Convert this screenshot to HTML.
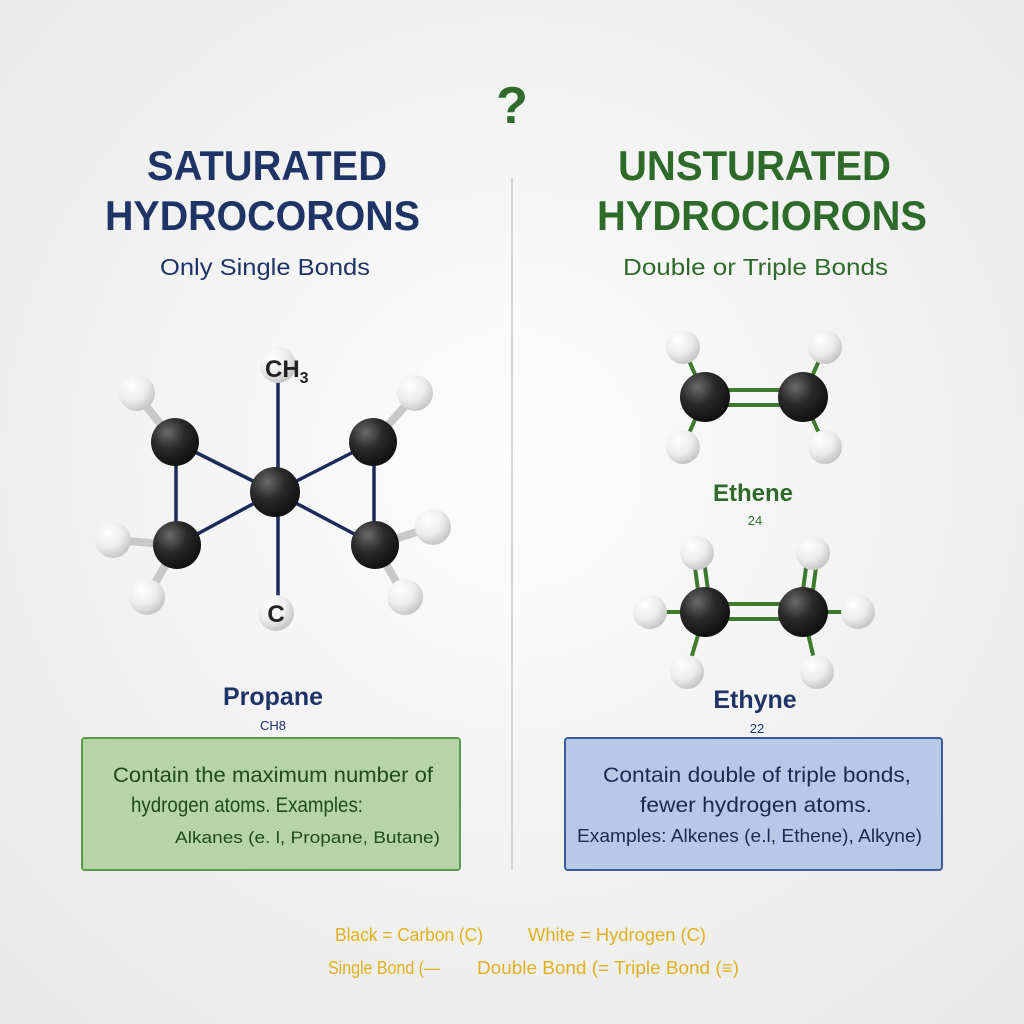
<!DOCTYPE html>
<html><head><meta charset="utf-8"><style>
html,body{margin:0;padding:0;width:1024px;height:1024px;overflow:hidden;background:#f5f5f5}
svg{display:block}
text{font-family:"Liberation Sans",sans-serif}
</style></head><body>
<svg width="1024" height="1024" viewBox="0 0 1024 1024">
<defs>
<radialGradient id="bg" cx="50%" cy="45%" r="70%"><stop offset="0" stop-color="#fdfdfd"/><stop offset="1" stop-color="#e9e9e9"/></radialGradient>
<radialGradient id="cg" cx="35%" cy="30%" r="70%"><stop offset="0" stop-color="#6a6a6a"/><stop offset="0.5" stop-color="#2a2a2a"/><stop offset="1" stop-color="#111"/></radialGradient>
<radialGradient id="hg" cx="35%" cy="30%" r="70%"><stop offset="0" stop-color="#ffffff"/><stop offset="0.6" stop-color="#ececec"/><stop offset="1" stop-color="#c8c8c8"/></radialGradient>
</defs>
<rect width="1024" height="1024" fill="url(#bg)"/>
<text x="512" y="123" text-anchor="middle" font-size="52" font-weight="bold" fill="#2e6b2a">?</text>
<line x1="512" y1="178" x2="512" y2="870" stroke="#d4d4d4" stroke-width="2"/>

<g fill="#1f3466" font-weight="bold">
<text x="147" y="180" font-size="42" textLength="240" lengthAdjust="spacingAndGlyphs">SATURATED</text>
<text x="105" y="230" font-size="42" textLength="315" lengthAdjust="spacingAndGlyphs">HYDROCORONS</text>
</g>
<text x="160" y="275" font-size="23" fill="#1f3466" textLength="210" lengthAdjust="spacingAndGlyphs">Only Single Bonds</text>

<g fill="#2e6b2a" font-weight="bold">
<text x="618" y="180" font-size="42" textLength="273" lengthAdjust="spacingAndGlyphs">UNSTURATED</text>
<text x="597" y="230" font-size="42" textLength="330" lengthAdjust="spacingAndGlyphs">HYDROCIORONS</text>
</g>
<text x="623" y="275" font-size="23" fill="#2e6b2a" textLength="265" lengthAdjust="spacingAndGlyphs">Double or Triple Bonds</text>

<!-- Propane molecule -->
<g>
<g stroke="#c8c8c8" stroke-width="8">
<line x1="137" y1="395" x2="175" y2="442"/><line x1="113" y1="540" x2="177" y2="545"/><line x1="147" y1="597" x2="177" y2="545"/>
<line x1="415" y1="395" x2="373" y2="442"/><line x1="433" y1="527" x2="375" y2="545"/><line x1="405" y1="597" x2="375" y2="545"/>
</g>
<g stroke="#1a2a5a" stroke-width="3.5">
<line x1="278" y1="370" x2="278" y2="613"/>
<line x1="275" y1="492" x2="175" y2="442"/><line x1="275" y1="492" x2="177" y2="545"/>
<line x1="275" y1="492" x2="373" y2="442"/><line x1="275" y1="492" x2="375" y2="545"/>
<line x1="176" y1="442" x2="176" y2="545"/><line x1="374" y1="442" x2="374" y2="545"/>
</g>
<g fill="url(#hg)">
<circle cx="137" cy="393" r="18"/><circle cx="113" cy="540" r="18"/><circle cx="147" cy="597" r="18"/>
<circle cx="415" cy="393" r="18"/><circle cx="433" cy="527" r="18"/><circle cx="405" cy="597" r="18"/>
<circle cx="278" cy="365" r="18"/><circle cx="276" cy="613" r="18"/>
</g>
<g fill="url(#cg)">
<circle cx="175" cy="442" r="24"/><circle cx="177" cy="545" r="24"/><circle cx="373" cy="442" r="24"/><circle cx="375" cy="545" r="24"/><circle cx="275" cy="492" r="25"/>
</g>
<text x="265" y="377" font-size="24" font-weight="bold" fill="#222">CH<tspan font-size="16" dy="6">3</tspan></text>
<text x="276" y="622" font-size="24" font-weight="bold" fill="#222" text-anchor="middle">C</text>
</g>
<text x="273" y="705" font-size="25" font-weight="bold" fill="#1f3466" text-anchor="middle">Propane</text>
<text x="273" y="730" font-size="13" fill="#1f3466" text-anchor="middle">CH8</text>

<!-- Ethene -->
<g>
<g stroke="#3d7a2e" stroke-width="4">
<line x1="683" y1="347" x2="705" y2="397"/><line x1="825" y1="347" x2="803" y2="397"/><line x1="683" y1="447" x2="705" y2="397"/><line x1="825" y1="447" x2="803" y2="397"/>
<line x1="705" y1="390" x2="803" y2="390"/><line x1="705" y1="405" x2="803" y2="405"/>
</g>
<g fill="url(#hg)"><circle cx="683" cy="347" r="17"/><circle cx="825" cy="347" r="17"/><circle cx="683" cy="447" r="17"/><circle cx="825" cy="447" r="17"/></g>
<g fill="url(#cg)"><circle cx="705" cy="397" r="25"/><circle cx="803" cy="397" r="25"/></g>
</g>
<text x="753" y="501" font-size="24" font-weight="bold" fill="#2e6b2a" text-anchor="middle">Ethene</text>
<text x="755" y="525" font-size="13" fill="#2e6b2a" text-anchor="middle">24</text>

<!-- Ethyne -->
<g>
<g stroke="#3d7a2e" stroke-width="4">
<line x1="693" y1="553" x2="701" y2="612"/><line x1="703" y1="553" x2="711" y2="612"/>
<line x1="808" y1="553" x2="800" y2="612"/><line x1="818" y1="553" x2="810" y2="612"/>
<line x1="650" y1="612" x2="705" y2="612"/><line x1="858" y1="612" x2="803" y2="612"/>
<line x1="687" y1="672" x2="705" y2="612"/><line x1="817" y1="672" x2="803" y2="612"/>
<line x1="705" y1="604" x2="803" y2="604"/><line x1="705" y1="619" x2="803" y2="619"/>
</g>
<g fill="url(#hg)"><circle cx="697" cy="553" r="17"/><circle cx="813" cy="553" r="17"/><circle cx="650" cy="612" r="17"/><circle cx="858" cy="612" r="17"/><circle cx="687" cy="672" r="17"/><circle cx="817" cy="672" r="17"/></g>
<g fill="url(#cg)"><circle cx="705" cy="612" r="25"/><circle cx="803" cy="612" r="25"/></g>
</g>
<text x="755" y="708" font-size="25" font-weight="bold" fill="#1f3466" text-anchor="middle">Ethyne</text>
<text x="757" y="733" font-size="13" fill="#1f3466" text-anchor="middle">22</text>

<!-- Boxes -->
<g>
<rect x="82" y="738" width="378" height="132" rx="3" fill="#b5d5a8" stroke="#5a9a4a" stroke-width="2"/>
<text x="113" y="782" font-size="21" fill="#1f4a1c" textLength="320" lengthAdjust="spacingAndGlyphs">Contain the maximum number of</text>
<text x="131" y="812" font-size="21" fill="#1f4a1c" textLength="232" lengthAdjust="spacingAndGlyphs">hydrogen atoms. Examples:</text>
<text x="175" y="843" font-size="17" fill="#1f4a1c" textLength="265" lengthAdjust="spacingAndGlyphs">Alkanes (e. l, Propane, Butane)</text>
</g>
<g>
<rect x="565" y="738" width="377" height="132" rx="3" fill="#b7c9e6" stroke="#3a5a9a" stroke-width="2"/>
<text x="603" y="782" font-size="21" fill="#1a2a50" textLength="308" lengthAdjust="spacingAndGlyphs">Contain double of triple bonds,</text>
<text x="640" y="812" font-size="21" fill="#1a2a50" textLength="232" lengthAdjust="spacingAndGlyphs">fewer hydrogen atoms.</text>
<text x="577" y="842" font-size="18" fill="#1a2a50" textLength="345" lengthAdjust="spacingAndGlyphs">Examples: Alkenes (e.l, Ethene), Alkyne)</text>
</g>

<g fill="#e0b020" font-size="18">
<text x="335" y="941" textLength="148" lengthAdjust="spacingAndGlyphs">Black = Carbon (C)</text>
<text x="528" y="941" textLength="178" lengthAdjust="spacingAndGlyphs">White = Hydrogen (C)</text>
<text x="328" y="974" textLength="112" lengthAdjust="spacingAndGlyphs">Single Bond (—</text>
<text x="477" y="974" textLength="262" lengthAdjust="spacingAndGlyphs">Double Bond (= Triple Bond (≡)</text>
</g>
</svg>
</body></html>
